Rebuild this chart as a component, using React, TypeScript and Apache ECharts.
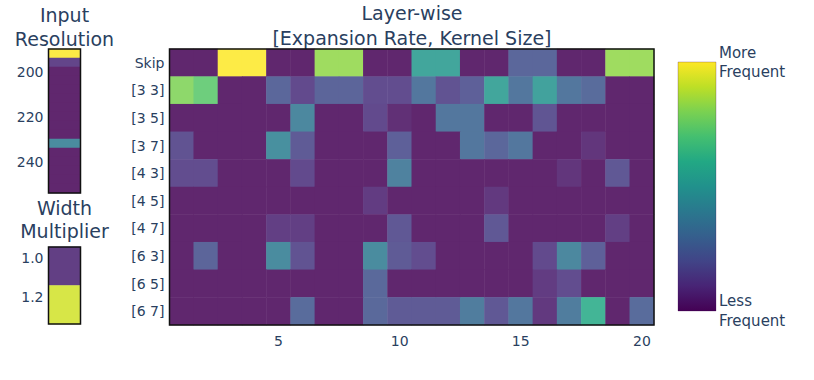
import React, { useEffect, useRef } from 'react';
import * as echarts from 'echarts';

// ---- categories / tick labels ----
const layerChoices = ['Skip', '[3 3]', '[3 5]', '[3 7]', '[4 3]', '[4 5]', '[4 7]', '[6 3]', '[6 5]', '[6 7]'];
const layerIndex = ['1', '2', '3', '4', '5', '6', '7', '8', '9', '10', '11', '12', '13', '14', '15', '16', '17', '18', '19', '20'];
const layerTicks = ['5', '10', '15', '20'];
const resolutions = ['192', '196', '200', '204', '208', '212', '216', '220', '224', '228', '232', '236', '240', '244', '248', '252'];
const resolutionTicks = ['200', '220', '240'];
const widthMultipliers = ['1.0', '1.2'];

// ---- values (relative frequency, 0..1) ----
const resolutionFreq = [1.0, 0.1, 0, 0, 0, 0, 0, 0, 0, 0, 0.4, 0, 0, 0, 0, 0];
const widthFreq = [0.08, 0.93];

const rowSkip = [0, 0, 1, 1, 0, 0, 0.83, 0.83, 0, 0, 0.52, 0.52, 0, 0, 0.23, 0.23, 0, 0, 0.83, 0.83];
const row33 = [0.8, 0.73, 0, 0, 0.23, 0.12, 0.22, 0.22, 0.13, 0.13, 0.3, 0.15, 0.2, 0.52, 0.3, 0.5, 0.3, 0.25, 0, 0];
const row35 = [0, 0, 0, 0, 0, 0.38, 0, 0, 0.12, 0.03, 0, 0.3, 0.3, 0, 0, 0.16, 0, 0, 0, 0];
const row37 = [0.15, 0, 0, 0, 0.42, 0.18, 0, 0, 0, 0.2, 0, 0, 0.3, 0.23, 0.3, 0, 0, 0.05, 0, 0];
const row43 = [0.13, 0.13, 0, 0, 0, 0.12, 0, 0, 0, 0.35, 0, 0, 0, 0, 0, 0, 0.05, 0, 0.17, 0];
const row45 = [0, 0, 0, 0, 0, 0, 0, 0, 0.07, 0, 0, 0, 0, 0.06, 0, 0, 0, 0, 0, 0];
const row47 = [0, 0, 0, 0, 0.08, 0.08, 0, 0, 0, 0.17, 0, 0, 0, 0.17, 0, 0, 0, 0, 0.08, 0];
const row63 = [0, 0.22, 0, 0, 0.4, 0.15, 0, 0, 0.4, 0.18, 0.13, 0, 0, 0, 0, 0.12, 0.38, 0.2, 0, 0];
const row65 = [0, 0, 0, 0, 0, 0, 0, 0, 0.24, 0, 0, 0, 0, 0, 0, 0.07, 0.13, 0, 0, 0];
const row67 = [0, 0, 0, 0, 0, 0.25, 0, 0, 0.24, 0.18, 0.18, 0.18, 0.33, 0.17, 0.3, 0.06, 0.33, 0.6, 0, 0.25];

const layerRows = [rowSkip, row33, row35, row37, row43, row45, row47, row63, row65, row67];

// viridis colour scale
const viridis = ['#440154', '#482475', '#414487', '#355f8d', '#2a788e', '#21918c', '#22a884', '#44bf70', '#7ad151', '#bddf26', '#fde725'];
// cells are drawn at 85% opacity over white: pre-blend to avoid seams between cells
const CELL_OPACITY = 0.85;
const blend = (hex: string) => {
  const n = parseInt(hex.slice(1), 16);
  const ch = [(n >> 16) & 255, (n >> 8) & 255, n & 255].map((c) => Math.round(c * CELL_OPACITY + 255 * (1 - CELL_OPACITY)));
  return `rgb(${ch[0]},${ch[1]},${ch[2]})`;
};
const viridisCells = viridis.map(blend);

const FONT = 'DejaVu Sans';
const TXT = '#2a3f5f';

export default function App() {
  const ref = useRef<HTMLDivElement>(null);

  useEffect(() => {
    if (!ref.current) return;
    const chart = echarts.init(ref.current, undefined, { renderer: 'svg' });

    const mainData: number[][] = [];
    layerRows.forEach((row, r) => row.forEach((v, c) => mainData.push([c, r, v])));
    const resData = resolutionFreq.map((v, i) => [0, i, v]);
    const widthData = widthFreq.map((v, i) => [0, i, v]);

    const gridFrame = { show: true, borderColor: '#111', borderWidth: 1.5, backgroundColor: 'transparent', z: 5 };
    const labelBase = { color: TXT, fontFamily: FONT, fontSize: 14 };

    const title = (text: string, x: number, y: number, size = 19) => ({
      type: 'text',
      x,
      y,
      style: { text, fill: TXT, fontFamily: FONT, fontSize: size, textAlign: 'center', textVerticalAlign: 'middle' },
    });
    const side = (text: string, x: number, y: number) => ({
      type: 'text',
      x,
      y,
      style: { text, fill: TXT, fontFamily: FONT, fontSize: 15, textAlign: 'left', textVerticalAlign: 'middle' },
    });

    const barStops = viridis
      .map((c, i) => ({ offset: 1 - i / (viridis.length - 1), color: c }))
      .reverse();

    chart.setOption({
      animation: false,
      grid: [
        { ...gridFrame, left: 48.5, top: 49, width: 32, height: 144 },
        { ...gridFrame, left: 48.5, top: 247, width: 32, height: 77 },
        { ...gridFrame, left: 169.5, top: 49, width: 484.5, height: 276 },
      ],
      xAxis: [
        { type: 'category', gridIndex: 0, data: ['r'], show: false },
        { type: 'category', gridIndex: 1, data: ['w'], show: false },
        {
          type: 'category',
          gridIndex: 2,
          data: layerIndex,
          axisLine: { show: false },
          axisTick: { show: false },
          splitLine: { show: false },
          axisLabel: { ...labelBase, margin: 9, interval: (_i: number, v: string) => layerTicks.includes(v) },
        },
      ],
      yAxis: [
        {
          type: 'category',
          gridIndex: 0,
          inverse: true,
          data: resolutions,
          axisLine: { show: false },
          axisTick: { show: false },
          axisLabel: { ...labelBase, margin: 5, interval: (_i: number, v: string) => resolutionTicks.includes(v) },
        },
        {
          type: 'category',
          gridIndex: 1,
          inverse: true,
          data: widthMultipliers,
          axisLine: { show: false },
          axisTick: { show: false },
          axisLabel: { ...labelBase, margin: 5, verticalAlign: 'bottom', lineHeight: 16 },
        },
        {
          type: 'category',
          gridIndex: 2,
          inverse: true,
          data: layerChoices,
          axisLine: { show: false },
          axisTick: { show: false },
          axisLabel: { ...labelBase, margin: 5 },
        },
      ],
      visualMap: {
        type: 'continuous',
        show: false,
        min: 0,
        max: 1,
        seriesIndex: [0, 1, 2],
        inRange: { color: viridisCells },
      },
      series: [
        { type: 'heatmap', xAxisIndex: 0, yAxisIndex: 0, data: resData },
        { type: 'heatmap', xAxisIndex: 1, yAxisIndex: 1, data: widthData },
        { type: 'heatmap', xAxisIndex: 2, yAxisIndex: 2, data: mainData },
      ],
      graphic: [
        {
          type: 'rect',
          x: 678,
          y: 62,
          shape: { width: 38, height: 249 },
          style: {
            fill: new echarts.graphic.LinearGradient(0, 0, 0, 1, barStops),
            stroke: 'rgba(68,1,84,0.25)',
            lineWidth: 1,
          },
        },
        title('Input', 64.5, 14.5),
        title('Resolution', 64.5, 38.5),
        title('Width', 64.5, 208),
        title('Multiplier', 64.5, 231),
        title('Layer-wise', 412, 12.5),
        title('[Expansion Rate, Kernel Size]', 412, 37.5),
        side('More', 719, 53),
        side('Frequent', 719, 72),
        side('Less', 719, 301),
        side('Frequent', 719, 321),
      ],
    });

    return () => chart.dispose();
  }, []);

  return <div ref={ref} style={{ position: 'fixed', left: 0, top: 0, width: 814, height: 380, background: '#fff' }} />;
}
